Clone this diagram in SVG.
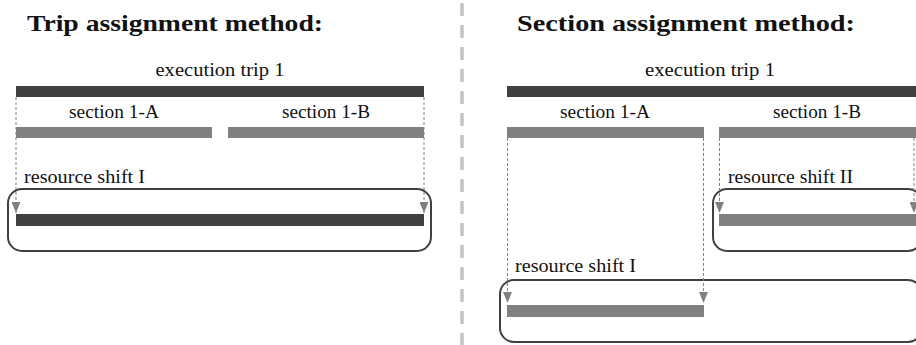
<svg xmlns="http://www.w3.org/2000/svg" width="916" height="345" viewBox="0 0 916 345">
<defs>
<style>
.title{font-family:"Liberation Serif","Times New Roman",serif;font-weight:bold;font-size:24px;fill:#111}
.lbl{font-family:"Liberation Serif","Times New Roman",serif;font-size:18px;fill:#111}
.dark{fill:#404040}
.gray{fill:#808080}
.box{fill:none;stroke:#404040;stroke-width:2}
.conn{stroke:#808080;stroke-width:1;stroke-dasharray:3 2;fill:none}
.div{stroke:#c3c3c3;stroke-width:3.5;stroke-dasharray:13 9;fill:none}
</style>
<marker id="ah" markerWidth="9" markerHeight="11" refX="4.5" refY="11" orient="0" markerUnits="userSpaceOnUse">
<path d="M0,0 L9,0 L4.5,11 Z" fill="#808080"/>
</marker>
</defs>
<rect width="916" height="345" fill="#fff"/>
<line class="div" x1="462" y1="3" x2="462" y2="345"/>

<g id="left-panel">
<text id="title-left" class="title" x="27" y="31" textLength="296" lengthAdjust="spacingAndGlyphs">Trip assignment method:</text>
<g id="L-trip">
<text class="lbl" x="220" y="76" text-anchor="middle" textLength="129" lengthAdjust="spacingAndGlyphs">execution trip 1</text>
<rect class="dark" x="16" y="86" width="408" height="11"/>
</g>
<g id="L-sec1A">
<text class="lbl" x="114" y="118" text-anchor="middle" textLength="90" lengthAdjust="spacingAndGlyphs">section 1-A</text>
<rect class="gray" x="16" y="127" width="196" height="11"/>
</g>
<g id="L-sec1B">
<text class="lbl" x="326" y="118" text-anchor="middle" textLength="88" lengthAdjust="spacingAndGlyphs">section 1-B</text>
<rect class="gray" x="228" y="127" width="196" height="11"/>
</g>
<g id="L-shiftI">
<text class="lbl" x="24" y="183" textLength="121" lengthAdjust="spacingAndGlyphs">resource shift I</text>
<rect class="box" x="8" y="189" width="423" height="62" rx="14"/>
<rect class="dark" x="16" y="214" width="408" height="12"/>
</g>
</g>

<g id="right-panel">
<text id="title-right" class="title" x="517" y="31" textLength="338" lengthAdjust="spacingAndGlyphs">Section assignment method:</text>
<g id="R-trip">
<text class="lbl" x="710" y="76" text-anchor="middle" textLength="130" lengthAdjust="spacingAndGlyphs">execution trip 1</text>
<rect class="dark" x="507" y="86" width="409" height="11"/>
</g>
<g id="R-sec1A">
<text class="lbl" x="605" y="118" text-anchor="middle" textLength="90" lengthAdjust="spacingAndGlyphs">section 1-A</text>
<rect class="gray" x="507" y="127" width="197" height="11"/>
</g>
<g id="R-sec1B">
<text class="lbl" x="817" y="118" text-anchor="middle" textLength="88" lengthAdjust="spacingAndGlyphs">section 1-B</text>
<rect class="gray" x="719" y="127" width="197" height="11"/>
</g>
<g id="R-shiftII">
<text class="lbl" x="728" y="183" textLength="125" lengthAdjust="spacingAndGlyphs">resource shift II</text>
<rect class="box" x="713" y="189" width="209" height="62" rx="14"/>
<rect class="gray" x="719" y="214" width="197" height="12"/>
</g>
<g id="R-shiftI">
<text class="lbl" x="515" y="272" textLength="121" lengthAdjust="spacingAndGlyphs">resource shift I</text>
<rect class="box" x="500" y="280" width="422" height="62" rx="14"/>
<rect class="gray" x="507" y="305" width="197" height="12"/>
</g>
</g>

<g id="connectors">
<line class="conn" x1="16" y1="97" x2="16" y2="213" marker-end="url(#ah)"/>
<line class="conn" x1="424" y1="97" x2="424" y2="213" marker-end="url(#ah)"/>
<line class="conn" x1="507.5" y1="138" x2="507.5" y2="303" marker-end="url(#ah)"/>
<line class="conn" x1="703.5" y1="138" x2="703.5" y2="303" marker-end="url(#ah)"/>
<line class="conn" x1="719.5" y1="138" x2="719.5" y2="213" marker-end="url(#ah)"/>
<line class="conn" x1="914" y1="138" x2="914" y2="213" marker-end="url(#ah)"/>
</g>
</svg>
